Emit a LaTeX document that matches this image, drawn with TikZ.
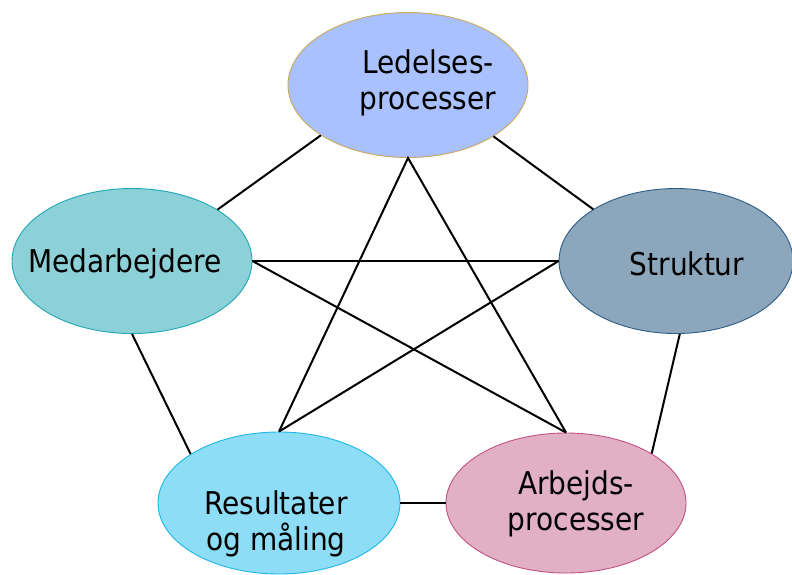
\documentclass[tikz,border=0pt]{standalone}
\usepackage{fontspec}
\setmainfont{DejaVu Sans}
\usetikzlibrary{shapes.geometric}
\definecolor{lfill}{HTML}{A9C1FE}
\definecolor{ldraw}{HTML}{C9A85A}
\definecolor{mfill}{HTML}{8DD1D8}
\definecolor{mdraw}{HTML}{1FA6B5}
\definecolor{sfill}{HTML}{8CA6BC}
\definecolor{sdraw}{HTML}{2D5D86}
\definecolor{rfill}{HTML}{8EDDF6}
\definecolor{rdraw}{HTML}{1DB6E6}
\definecolor{afill}{HTML}{E1B0C4}
\definecolor{adraw}{HTML}{C25282}
\tikzset{
  blob/.style={ellipse, inner sep=0pt, line width=0.9pt, minimum width=240pt, minimum height=145pt},
  lbl/.style={font=\fontsize{28}{32}\selectfont, align=center, yscale=1.12, transform shape, inner sep=0pt},
  link/.style={line width=2pt, black}
}
\begin{document}
\begin{tikzpicture}[x=1pt,y=-1pt]
\useasboundingbox (0,0) rectangle (792,574);
\node[blob, fill=lfill, draw=ldraw] (L) at (408,85) {};
\node[blob, fill=mfill, draw=mdraw] (M) at (132,261) {};
\node[blob, fill=sfill, draw=sdraw, minimum width=234pt] (S) at (676,261) {};
\node[blob, fill=rfill, draw=rdraw, minimum width=242pt, minimum height=142pt] (R) at (279,503) {};
\node[blob, fill=afill, draw=adraw, minimum height=140pt] (A) at (566,503) {};

\node[lbl] (Lt) at (428,83) {Ledelses-\\processer};
\node[lbl] (Mt) at (125,264) {Medarbejdere};
\node[lbl] (St) at (687,264) {Struktur};
\node[lbl] (Rt) at (276,524) {Resultater\\og måling};
\node[lbl] (At) at (576,504) {Arbejds-\\processer};

\draw[link] (L.210) -- (M.31);
\draw[link] (L.329) -- (S.148);
\draw[link] (M.270) -- (R.151);
\draw[link] (S.273) -- (A.30);
\draw[link] (R.east) -- (A.west);
\draw[link] (R.north) -- (L.south) -- (A.north);
\draw[link] (M.east) -- (S.west);
\draw[link] (M.east) -- (A.north);
\draw[link] (S.west) -- (R.north);
\end{tikzpicture}
\end{document}
